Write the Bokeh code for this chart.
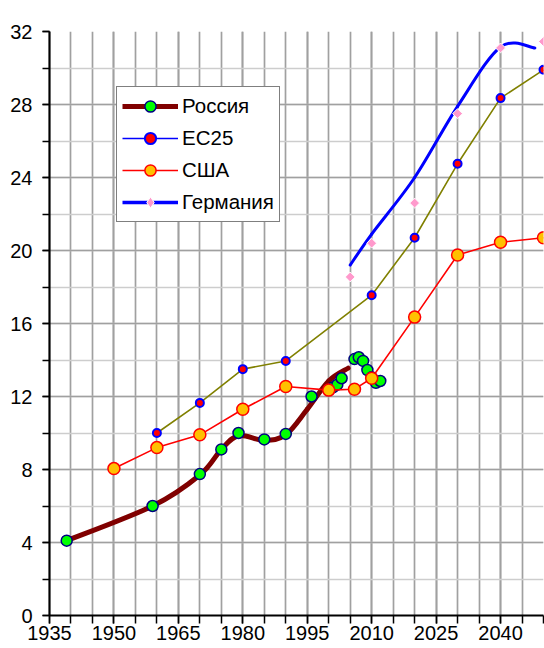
import numpy as np
from bokeh.plotting import figure
from bokeh.models import Range1d, SingleIntervalTicker, Legend, LegendItem, ColumnDataSource
from bokeh.embed import file_html
from bokeh.resources import INLINE

# ---------------- data ----------------
russia_years = [1939, 1959, 1970, 1975, 1979, 1985, 1990, 1996, 2000, 2001, 2002, 2003,
                2006, 2007, 2008, 2009, 2010, 2011, 2012]
russia_vals = [4.1, 6.0, 7.75, 9.1, 10.0, 9.65, 9.95, 12.0, 12.35, 12.5, 12.65, 13.0,
               14.05, 14.15, 13.95, 13.45, 13.05, 12.75, 12.85]
russia_line_years = [1939, 1959, 1970, 1975, 1979, 1985, 1990, 1995, 2000, 2004.5]
russia_line_vals = [4.1, 6.0, 7.7, 9.1, 9.85, 9.6, 9.9, 11.3, 12.85, 13.55]

eu_years = [1960, 1970, 1980, 1990, 2010, 2020, 2030, 2040, 2050]
eu_vals = [10.0, 11.65, 13.5, 13.95, 17.55, 20.7, 24.75, 28.35, 29.9]

usa_years = [1950, 1960, 1970, 1980, 1990, 2000, 2006, 2010, 2020, 2030, 2040, 2050]
usa_vals = [8.05, 9.2, 9.9, 11.3, 12.55, 12.35, 12.4, 13.0, 16.35, 19.75, 20.45, 20.7]

ger_years = [2005, 2010, 2020, 2030, 2040, 2050]
ger_vals = [18.55, 20.4, 22.6, 27.5, 31.1, 31.45]
ger_line_years = [2005, 2010, 2020, 2030, 2040, 2048]
ger_line_vals = [19.2, 20.9, 24.0, 27.9, 31.15, 31.1]

labels = ["Россия", "ЕС25", "США", "Германия"]


def smooth_segments(xs, ys):
    """Bezier control points of a smoothed line through the given knots."""
    xs = np.asarray(xs, float)
    ys = np.asarray(ys, float)
    px = np.concatenate([[xs[0]], xs, [xs[-1]]])
    py = np.concatenate([[ys[0]], ys, [ys[-1]]])
    i = np.arange(1, len(xs))
    return dict(
        x0=px[i], y0=py[i], x1=px[i + 1], y1=py[i + 1],
        cx0=px[i] + (px[i + 1] - px[i - 1]) / 6.0,
        cy0=py[i] + (py[i + 1] - py[i - 1]) / 6.0,
        cx1=px[i + 1] - (px[i + 2] - px[i]) / 6.0,
        cy1=py[i + 1] - (py[i + 2] - py[i]) / 6.0,
    )


FONT = "Liberation Sans"

p = figure(width=544, height=648, x_range=Range1d(1935, 2050), y_range=Range1d(0, 32),
           output_backend="svg", toolbar_location=None,
           min_border_left=49, min_border_right=1, min_border_top=31, min_border_bottom=33,
           background_fill_color="white", border_fill_color="white", outline_line_color=None)

xt = SingleIntervalTicker(interval=15, num_minor_ticks=3)
yt = SingleIntervalTicker(interval=4, num_minor_ticks=2)
p.xaxis.ticker = xt
p.yaxis.ticker = yt
p.xgrid.ticker = xt
p.ygrid.ticker = yt

p.xgrid.grid_line_color = "#A0A0A0"
p.xgrid.grid_line_width = 1.7
p.xgrid.minor_grid_line_color = "#A0A0A0"
p.xgrid.minor_grid_line_width = 1.7
p.ygrid.grid_line_color = "#A0A0A0"
p.ygrid.grid_line_width = 1.7
p.ygrid.minor_grid_line_color = "#CDCDCD"
p.ygrid.minor_grid_line_width = 1.7

for ax in (p.xaxis[0], p.yaxis[0]):
    ax.axis_line_color = "black"
    ax.axis_line_width = 2.2
    ax.major_tick_line_color = "black"
    ax.major_tick_line_width = 1.5
    ax.minor_tick_line_color = "black"
    ax.minor_tick_line_width = 1.5
    ax.major_tick_in = 0
    ax.minor_tick_in = 0
    ax.major_label_text_font = FONT
    ax.major_label_text_font_size = "20px"
    ax.major_label_text_color = "black"

p.yaxis.major_tick_out = 7
p.yaxis.minor_tick_out = 7
p.yaxis.major_label_standoff = 10
p.xaxis.major_tick_out = 8
p.xaxis.minor_tick_out = 8
p.xaxis.major_label_standoff = 2

# ---------------- lines ----------------
p.line(eu_years, eu_vals, line_color="#808000", line_width=1.6)

rus_src = ColumnDataSource(smooth_segments(russia_line_years, russia_line_vals))
p.bezier(x0="x0", y0="y0", x1="x1", y1="y1", cx0="cx0", cy0="cy0", cx1="cx1", cy1="cy1",
         source=rus_src, line_color="#800000", line_width=5, line_cap="round")

rus_pts = p.scatter(russia_years, russia_vals, marker="circle", size=11,
                    fill_color="#00FF00", line_color="#000080", line_width=1.5)

usa_line = p.line(usa_years, usa_vals, line_color="#FF0000", line_width=1.6)
usa_pts = p.scatter(usa_years, usa_vals, marker="circle", size=12,
                    fill_color="#FFC000", line_color="#FF0000", line_width=1.5)

eu_pts = p.scatter(eu_years, eu_vals, marker="circle", size=8,
                   fill_color="#FF0000", line_color="#0000FF", line_width=2)

ger_src = ColumnDataSource(smooth_segments(ger_line_years, ger_line_vals))
p.bezier(x0="x0", y0="y0", x1="x1", y1="y1", cx0="cx0", cy0="cy0", cx1="cx1", cy1="cy1",
         source=ger_src, line_color="#0000FF", line_width=3, line_cap="round")

ger_pts = p.scatter(ger_years, ger_vals, marker="square", size=7, angle=np.pi / 4,
                    fill_color="#FF99CC", line_color="white", line_width=1)

# legend-only renderers (not drawn in the plot)
rus_leg = p.line(russia_line_years, russia_line_vals, line_color="#800000", line_width=5, visible=False)
eu_leg = p.line(eu_years, eu_vals, line_color="#0000FF", line_width=1.5, visible=False)
ger_leg = p.line(ger_line_years, ger_line_vals, line_color="#0000FF", line_width=3.5, visible=False)
ger_leg_pts = p.scatter(ger_years, ger_vals, marker="diamond", size=15,
                        fill_color="#FF99CC", line_color="white", line_width=1, visible=False)

legend = Legend(items=[
    LegendItem(label=labels[0], renderers=[rus_leg, rus_pts]),
    LegendItem(label=labels[1], renderers=[eu_leg, eu_pts]),
    LegendItem(label=labels[2], renderers=[usa_line, usa_pts]),
    LegendItem(label=labels[3], renderers=[ger_leg, ger_leg_pts]),
], location=(67, 393), orientation="vertical",
    glyph_width=56, glyph_height=28, label_height=28, label_standoff=4,
    spacing=4, padding=5, margin=0,
    label_text_font=FONT, label_text_font_size="20.5px", label_text_color="black",
    border_line_color="black", border_line_width=1.5,
    background_fill_color="white", background_fill_alpha=1.0)
p.add_layout(legend, "center")

open("out.html", "w").write(file_html(p, INLINE))
